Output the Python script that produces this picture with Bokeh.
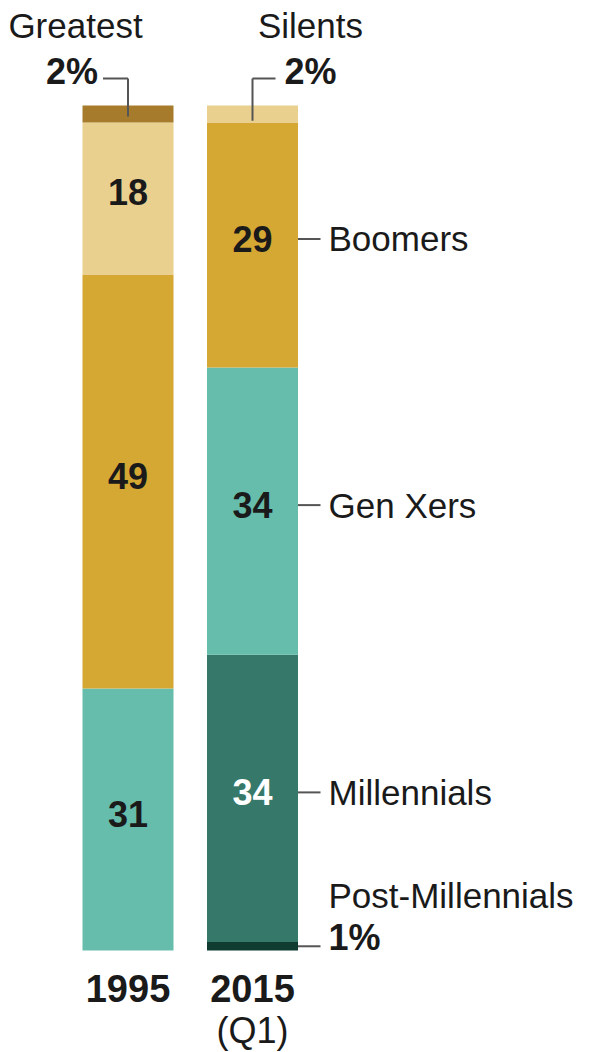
import numpy as np
from bokeh.plotting import figure
from bokeh.models import Range1d, ColumnDataSource
from bokeh.core.properties import value
from bokeh.embed import file_html
from bokeh.resources import INLINE

# ---- data ----
years = ["1995", "2015"]
generations = ["Post-Millennials", "Millennials", "Gen Xers", "Boomers", "Silents", "Greatest"]
share_1995 = [0, 0, 31, 49, 18, 2]
share_2015 = [1, 34, 34, 29, 2, 0]
colors = ["#0f3b31", "#36786a", "#66bdab", "#d5a733", "#e9d08e", "#a67c2c"]

W, H = 590, 1052
PX = 8.45  # pixels per percentage point
y_bot_px, y_top_px = 950, 105
y0 = -(H - y_bot_px) / PX
y1 = 100 + y_top_px / PX

p = figure(width=W, height=H, output_backend="svg", toolbar_location=None,
           x_range=Range1d(0, W), y_range=Range1d(y0, y1), min_border=0)
p.axis.visible = False
p.grid.visible = False
p.outline_line_color = None
p.background_fill_color = "white"
p.border_fill_color = "white"

bar_x = {"1995": 127.5, "2015": 252}
bar_w = 91
FONT = value("Liberation Sans")

for yr, shares in zip(years, [share_1995, share_2015]):
    cum = np.cumsum([0] + shares)
    bottoms, tops, cols, mids, labs, tcol = [], [], [], [], [], []
    for i, s in enumerate(shares):
        if s <= 0:
            continue
        bottoms.append(cum[i]); tops.append(cum[i + 1]); cols.append(colors[i])
    src = ColumnDataSource(dict(x=[bar_x[yr]] * len(bottoms), b=bottoms, t=tops, c=cols))
    p.vbar(x="x", width=bar_w, bottom="b", top="t", fill_color="c", line_color=None, source=src)
    # inner labels for larger segments
    for i, s in enumerate(shares):
        if s >= 5:
            mids.append((cum[i] + cum[i + 1]) / 2)
            labs.append(str(s))
            tcol.append("white" if generations[i] == "Millennials" else "#1a1a1a")
    p.text(x=[bar_x[yr]] * len(mids), y=mids, text=labs, text_color=tcol,
           text_font=FONT, text_font_style="bold", text_font_size="36px",
           text_align="center", text_baseline="middle", y_offset=-6)

# year labels
p.text(x=[bar_x["1995"], bar_x["2015"]], y=[0, 0], text=["1995", "2015"],
       text_font=FONT, text_font_style="bold", text_font_size="38px",
       text_align="center", text_baseline="middle", y_offset=38, text_color="#1a1a1a")
p.text(x=[bar_x["2015"]], y=[0], text=["(Q1)"], text_font=FONT, text_font_size="36px",
       text_align="center", text_baseline="middle", y_offset=80, text_color="#1a1a1a")

# right-side labels for 2015 bar
cum15 = np.cumsum([0] + share_2015)
lab_x = 328
line_col = "#555555"
right_labels = []
for i, g in enumerate(generations):
    if g in ("Millennials", "Gen Xers", "Boomers"):
        right_labels.append((g, (cum15[i] + cum15[i + 1]) / 2))
x2r = bar_x["2015"] + bar_w / 2
p.text(x=[lab_x] * len(right_labels), y=[m for _, m in right_labels],
       text=[g for g, _ in right_labels], text_font=FONT, text_font_size="35px",
       text_align="left", text_baseline="middle", y_offset=-6, text_color="#1a1a1a")
p.segment(x0=[x2r] * len(right_labels), x1=[lab_x - 8] * len(right_labels),
          y0=[m + 6 / PX for _, m in right_labels], y1=[m + 6 / PX for _, m in right_labels],
          line_color=line_col, line_width=2)

# Post-Millennials
pm_mid = (cum15[0] + cum15[1]) / 2
p.text(x=[lab_x], y=[pm_mid], text=["Post-Millennials"], text_font=FONT, text_font_size="35px",
       text_align="left", text_baseline="middle", y_offset=-51, text_color="#1a1a1a")
p.text(x=[lab_x], y=[pm_mid], text=[f"{share_2015[0]}%"], text_font=FONT, text_font_style="bold",
       text_font_size="36px", text_align="left", text_baseline="middle", y_offset=-9, text_color="#1a1a1a")
p.segment(x0=[x2r], x1=[lab_x - 8], y0=[pm_mid], y1=[pm_mid], line_color=line_col, line_width=2)

# top labels: Greatest (1995) and Silents (2015)
top_y = 100
cx1, cx2 = bar_x["1995"], bar_x["2015"]
p.text(x=[75, 310], y=[top_y, top_y], text=["Greatest", "Silents"], text_font=FONT,
       text_font_size="35px", text_align="center", text_baseline="middle", y_offset=-80,
       text_color="#1a1a1a")
p.text(x=[cx1 - 30], y=[top_y], text=[f"{share_1995[5]}%"], text_font=FONT, text_font_style="bold",
       text_font_size="36px", text_align="right", text_baseline="middle", y_offset=-34,
       text_color="#1a1a1a")
p.text(x=[cx2 + 32], y=[top_y], text=[f"{share_2015[4]}%"], text_font=FONT, text_font_style="bold",
       text_font_size="36px", text_align="left", text_baseline="middle", y_offset=-34,
       text_color="#1a1a1a")
lead_y = top_y + 27 / PX
p.segment(x0=[cx1 - 25, cx1, cx2 + 23, cx2], x1=[cx1, cx1, cx2, cx2],
          y0=[lead_y, lead_y, lead_y, lead_y],
          y1=[lead_y, top_y - share_1995[5] / 2 - 0.3, lead_y, top_y - share_2015[4] / 2 - 0.8],
          line_color=line_col, line_width=2)

open("out.html", "w").write(file_html(p, INLINE))
